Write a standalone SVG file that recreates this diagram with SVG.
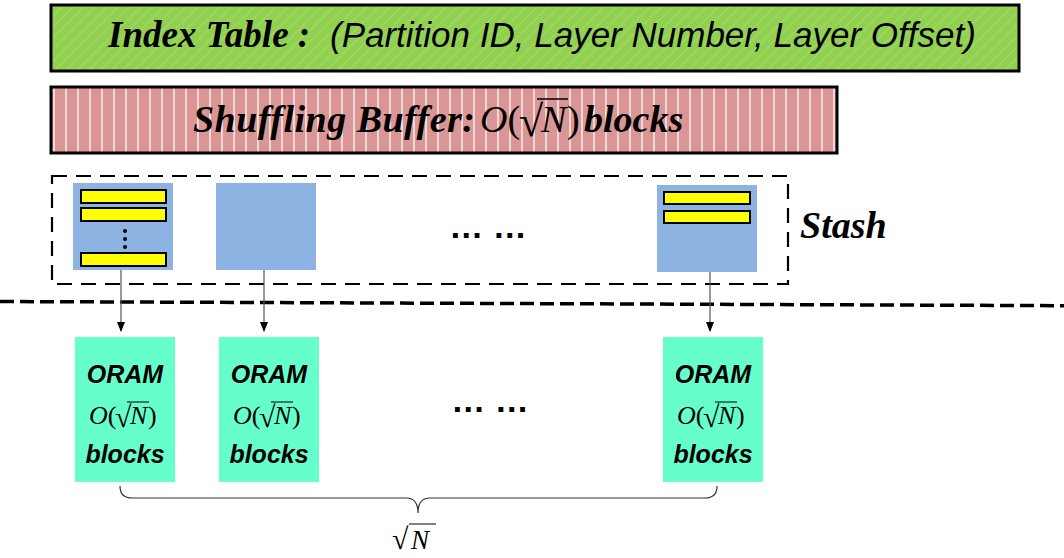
<svg xmlns="http://www.w3.org/2000/svg" width="1064" height="558" viewBox="0 0 1064 558">
<style>
.ser{font-family:"Liberation Serif","Times New Roman",serif}
.it{font-style:italic}
.bi{font-weight:bold;font-style:italic}
.sans{font-family:"Liberation Sans",Arial,sans-serif}
.box{stroke:#000;stroke-width:3}
.blk{fill:#8DB3E2}
.bar{fill:#FFFF00;stroke:#000;stroke-width:2}
.oram{fill:#66FFCC}
.conn{stroke:#555;stroke-width:1.2;fill:none}
</style>
<defs>
<pattern id="diag" width="8" height="8" patternUnits="userSpaceOnUse" patternTransform="rotate(45)">
<rect width="8" height="8" fill="#92D050"/>
<line x1="0" y1="0" x2="0" y2="8" stroke="#A9DC7C" stroke-width="1.5"/>
</pattern>
<pattern id="vert" width="12" height="12" patternUnits="userSpaceOnUse" x="53">
<rect width="12" height="12" fill="#D99694"/>
<line x1="1" y1="0" x2="1" y2="12" stroke="#FFF4F4" stroke-width="1.4"/>
</pattern>
<marker id="ah" markerWidth="10" markerHeight="12" refX="9" refY="4" orient="auto" markerUnits="userSpaceOnUse">
<path d="M0,0 L10,4 L0,8 Z" fill="#000"/>
</marker>
</defs>

<g id="index-table">
<rect x="51" y="5" width="968" height="66" fill="url(#diag)" class="box"/>
<text y="47" font-size="37"><tspan x="108" class="ser bi">Index Table :</tspan><tspan x="330" class="sans" font-style="italic" font-size="35">(Partition ID, Layer Number, Layer Offset)</tspan></text>
</g>

<g id="shuffling-buffer">
<rect x="51" y="87" width="786" height="66" fill="url(#vert)" class="box"/>
<text x="193" y="132" font-size="38" class="ser bi" textLength="282">Shuffling Buffer:</text>
<text x="480" y="132" font-size="38" class="ser"><tspan class="it">O</tspan>(</text>
<text x="519" y="136" font-size="44" class="ser">√</text>
<text x="541" y="132" font-size="38" class="ser it">N</text>
<text x="567" y="132" font-size="38" class="ser">)</text>
<line x1="537" y1="99" x2="568" y2="99" stroke="#000" stroke-width="1.5"/>
<text x="584" y="132" font-size="38" class="ser bi">blocks</text>
</g>

<g id="stash">
<rect x="52" y="176" width="736" height="108" fill="none" stroke="#000" stroke-width="2.2" stroke-dasharray="15 9"/>
<text x="800" y="238" font-size="38" class="ser bi">Stash</text>
</g>

<g id="stash-block-1">
<rect x="73" y="183" width="100" height="87" class="blk"/>
<rect x="81" y="190" width="85" height="13" class="bar"/>
<rect x="81" y="208" width="85" height="13" class="bar"/>
<rect x="81" y="253" width="85" height="13" class="bar"/>
<circle cx="125" cy="231" r="2"/>
<circle cx="125" cy="239" r="2"/>
<circle cx="125" cy="247" r="2"/>
</g>
<g id="stash-block-2">
<rect x="216" y="183" width="100" height="87" class="blk"/>
</g>
<g id="stash-block-3">
<rect x="657" y="185" width="100" height="87" class="blk"/>
<rect x="664" y="192" width="86" height="12" class="bar"/>
<rect x="664" y="211" width="86" height="12" class="bar"/>
</g>
<g id="stash-ellipsis">
<text x="488" y="238" font-size="34" font-weight="bold" text-anchor="middle" class="sans">… …</text>
</g>

<g id="separator">
<line x1="0" y1="301.5" x2="1064" y2="305.7" stroke="#000" stroke-width="3.5" stroke-dasharray="14 6"/>
</g>

<g id="connectors">
<line x1="121" y1="270" x2="121" y2="331" class="conn" marker-end="url(#ah)"/>
<line x1="264" y1="270" x2="264" y2="331" class="conn" marker-end="url(#ah)"/>
<line x1="710" y1="272" x2="710" y2="331" class="conn" marker-end="url(#ah)"/>
</g>

<g id="oram-1">
<rect x="75" y="337" width="100" height="145" class="oram"/>
<text x="125" y="383" font-size="25" text-anchor="middle" class="sans bi">ORAM</text>
<text x="89" y="424" font-size="26" class="ser"><tspan class="it">O</tspan>(</text>
<text x="115" y="427" font-size="30" class="ser">√</text>
<text x="130" y="424" font-size="26" class="ser it">N</text>
<text x="148" y="424" font-size="26" class="ser">)</text>
<line x1="127" y1="402" x2="149" y2="402" stroke="#000" stroke-width="1"/>
<text x="125" y="463" font-size="25" text-anchor="middle" class="sans bi">blocks</text>
</g>
<g id="oram-2">
<rect x="219" y="337" width="100" height="145" class="oram"/>
<text x="269" y="383" font-size="25" text-anchor="middle" class="sans bi">ORAM</text>
<text x="233" y="424" font-size="26" class="ser"><tspan class="it">O</tspan>(</text>
<text x="259" y="427" font-size="30" class="ser">√</text>
<text x="274" y="424" font-size="26" class="ser it">N</text>
<text x="292" y="424" font-size="26" class="ser">)</text>
<line x1="271" y1="402" x2="293" y2="402" stroke="#000" stroke-width="1"/>
<text x="269" y="463" font-size="25" text-anchor="middle" class="sans bi">blocks</text>
</g>
<g id="oram-3">
<rect x="663" y="337" width="100" height="145" class="oram"/>
<text x="713" y="383" font-size="25" text-anchor="middle" class="sans bi">ORAM</text>
<text x="677" y="424" font-size="26" class="ser"><tspan class="it">O</tspan>(</text>
<text x="703" y="427" font-size="30" class="ser">√</text>
<text x="718" y="424" font-size="26" class="ser it">N</text>
<text x="736" y="424" font-size="26" class="ser">)</text>
<line x1="715" y1="402" x2="737" y2="402" stroke="#000" stroke-width="1"/>
<text x="713" y="463" font-size="25" text-anchor="middle" class="sans bi">blocks</text>
</g>
<g id="oram-ellipsis">
<text x="490" y="412" font-size="34" font-weight="bold" text-anchor="middle" class="sans">… …</text>
</g>

<g id="brace">
<path d="M120,486 Q120,498 132,498 L406,498 Q418,498 418,513 Q418,498 430,498 L705,498 Q717,498 717,486" fill="none" stroke="#333" stroke-width="1.2"/>
<text x="392" y="549" font-size="30" class="ser">√</text>
<text x="411" y="549" font-size="27" class="ser it">N</text>
<line x1="409" y1="524" x2="436" y2="524" stroke="#000" stroke-width="1"/>
</g>
</svg>
